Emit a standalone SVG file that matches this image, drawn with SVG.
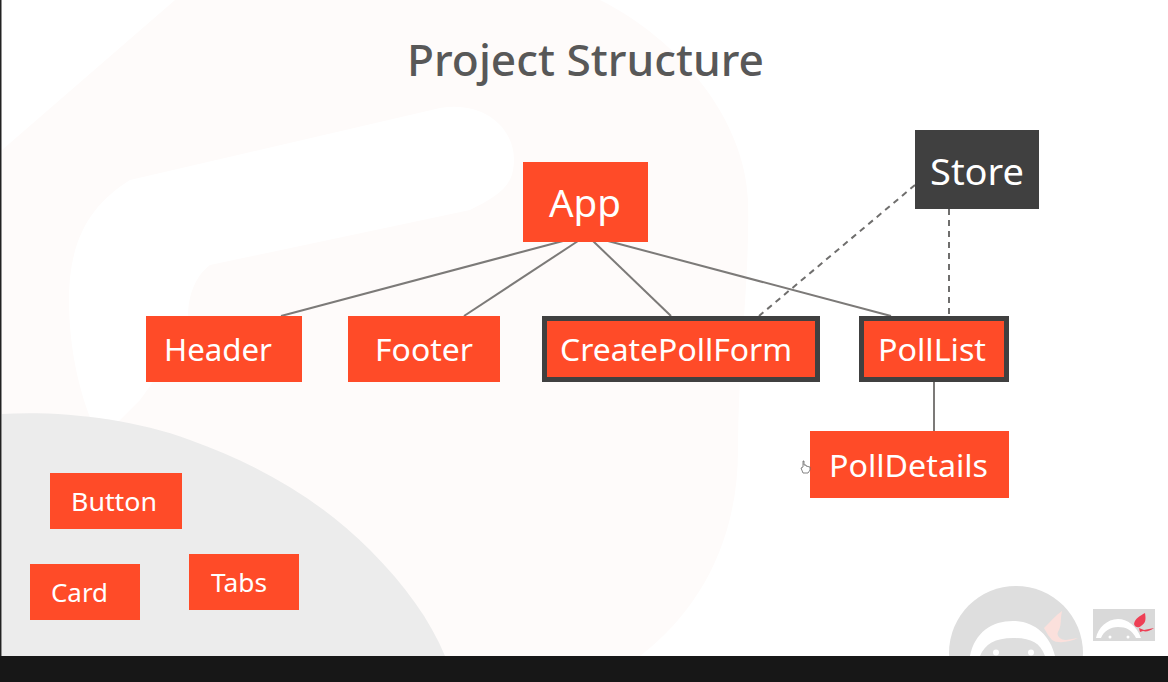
<svg xmlns="http://www.w3.org/2000/svg" width="1168" height="682" viewBox="0 0 1168 682">
<style>
.box{fill:#ff4b28}
.hl{fill:#ff4b28;stroke:#404040;stroke-width:5}
.t{font-family:"Noto Sans","Open Sans",sans-serif;fill:#fff;text-anchor:start}
.l{stroke:#7c7a78;stroke-width:2;fill:none}
.d{stroke:#6f6e6d;stroke-width:2;fill:none;stroke-dasharray:6 5}
.wash{fill:#fefbfa}
</style>
<rect width="1168" height="682" fill="#fff"/>
<g id="background">
<path class="wash" d="M2 150L175 0H600C680 40 745 120 748 200C750 280 738 360 738 450C738 540 700 610 640 656H445L2 656Z"/>
<path fill="#fff" d="M69 300C69 240 90 205 130 180L440 108C490 100 520 135 513 170C510 190 490 200 470 210L210 265C190 280 185 310 190 330L140 400L100 440C80 400 69 350 69 300Z"/>
<path fill="#ececec" d="M2 414C60 411 130 418 190 440C260 465 320 500 370 550C405 585 430 620 445 656H2Z"/>
</g>
<rect x="0" y="0" width="1.5" height="656" fill="#222"/>
<text x="407" y="76" font-family="'Noto Sans','Open Sans',sans-serif" font-size="44" font-weight="500" fill="#585858" textLength="357" lengthAdjust="spacingAndGlyphs">Project Structure</text>
<g id="connectors">
<line class="l" x1="563" y1="241" x2="281" y2="316"/>
<line class="l" x1="578" y1="241" x2="464" y2="316"/>
<line class="l" x1="593" y1="241" x2="671" y2="316"/>
<line class="l" x1="608" y1="241" x2="891" y2="316"/>
<line class="l" x1="934" y1="381" x2="934" y2="431"/>
<line class="d" x1="915" y1="185" x2="759" y2="316"/>
<line class="d" x1="949" y1="209" x2="949" y2="316"/>
</g>
<g id="app"><rect class="box" x="523" y="162" width="125" height="80"/><text class="t" x="549" y="217" font-size="39" textLength="72" lengthAdjust="spacingAndGlyphs">App</text></g>
<g id="store"><rect x="915" y="130" width="124" height="79" fill="#404040"/><text class="t" x="930" y="185" font-size="37" textLength="94" lengthAdjust="spacingAndGlyphs">Store</text></g>
<g id="header"><rect class="box" x="146" y="316" width="156" height="66"/><text class="t" x="164" y="361" font-size="31" textLength="108" lengthAdjust="spacingAndGlyphs">Header</text></g>
<g id="footer"><rect class="box" x="348" y="316" width="152" height="66"/><text class="t" x="375" y="361" font-size="31" textLength="98" lengthAdjust="spacingAndGlyphs">Footer</text></g>
<g id="createpollform"><rect class="hl" x="544.500" y="318.500" width="273" height="61"/><text class="t" x="560" y="361" font-size="31" textLength="232" lengthAdjust="spacingAndGlyphs">CreatePollForm</text></g>
<g id="polllist"><rect class="hl" x="861.500" y="318.500" width="145" height="61"/><text class="t" x="878" y="361" font-size="31" textLength="108" lengthAdjust="spacingAndGlyphs">PollList</text></g>
<g id="polldetails"><rect class="box" x="810" y="431" width="199" height="67"/><text class="t" x="829" y="477" font-size="31" textLength="159" lengthAdjust="spacingAndGlyphs">PollDetails</text></g>
<g id="button"><rect class="box" x="50" y="473" width="132" height="56"/><text class="t" x="71" y="511" font-size="26" textLength="86" lengthAdjust="spacingAndGlyphs">Button</text></g>
<g id="card"><rect class="box" x="30" y="564" width="110" height="56"/><text class="t" x="51" y="602" font-size="26" textLength="57" lengthAdjust="spacingAndGlyphs">Card</text></g>
<g id="tabs"><rect class="box" x="189" y="554" width="110" height="56"/><text class="t" x="211" y="592" font-size="26" textLength="56" lengthAdjust="spacingAndGlyphs">Tabs</text></g>
<g id="cursor"><path d="M803 461v6l-2 1 2 5h5l2-3v-3l-4-1v-1h-2v-4z" fill="#fff" stroke="#666" stroke-width="0.800"/></g>
<g id="logo-large">
<circle cx="1016" cy="653" r="67" fill="#dedede"/>
<path d="M970 656C975 632 992 621 1013 621C1034 621 1050 635 1055 656H1045C1040 642 1030 638 1013 638C995 638 985 644 980 656Z" fill="#fff"/>
<circle cx="996" cy="652.500" r="3" fill="#fff"/><circle cx="1031" cy="652.500" r="3" fill="#fff"/>
<path d="M1044 628C1050 622 1056 615 1062 611C1060 620 1062 625 1058 632C1056 635 1060 640 1066 640L1078 638C1070 642 1058 644 1052 640L1048 635Z" fill="#fbe0dc"/>
</g>
<g id="logo-small">
<rect x="1093" y="609" width="62" height="32" fill="#d9d9d9"/>
<path d="M1096 638C1098 628 1107 619 1118 619C1127 619 1137 626 1141 638H1136C1132 630 1126 627 1118 627C1110 627 1104 631 1101 638Z" fill="#fff"/>
<circle cx="1110" cy="637" r="1.500" fill="#fff"/><circle cx="1128" cy="637" r="1.500" fill="#fff"/>
<path d="M1134 624C1135 618 1140 616 1145 613C1146 619 1146 623 1141 626C1139 628 1135 628 1134 624Z" fill="#ee3f55"/>
<path d="M1139 628L1144 630L1154 628C1150 631 1146 632 1143 631L1140 632Z" fill="#ee3f55"/>
</g>
<rect id="bottom-bar" x="0" y="656" width="1168" height="26" fill="#171717"/>
</svg>
